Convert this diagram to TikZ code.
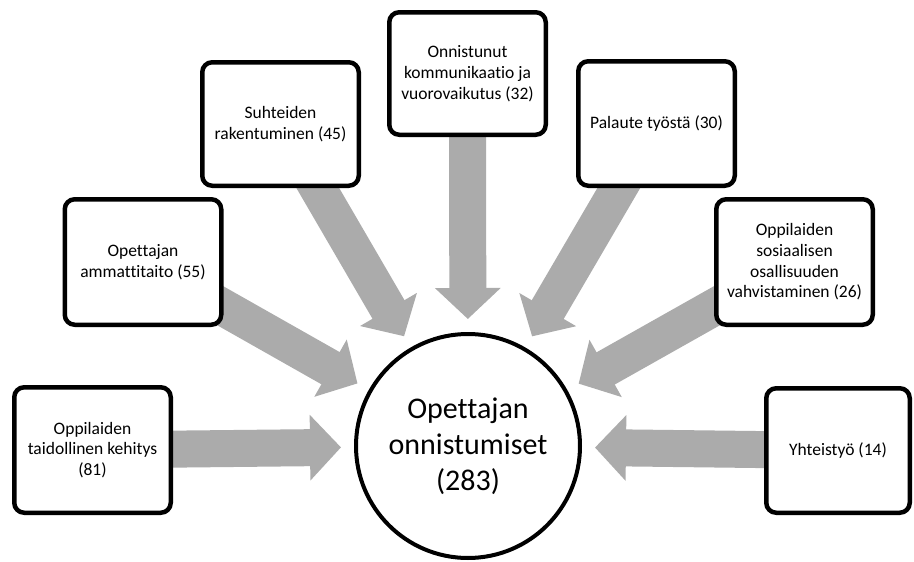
\documentclass[tikz,border=0pt]{standalone}
\usepackage{fontspec}
\setmainfont{Carlito}[Ligatures=NoCommon]
\usetikzlibrary{arrows.meta,calc,backgrounds}
\definecolor{flowgray}{RGB}{171,171,171}
\begin{document}
\begin{tikzpicture}
[x=1pt,y=-1pt,
 boxdecorate/.style={shape=rectangle,rounded corners=10pt,draw,line width=4.5pt,
   fill=white,align=center,inner sep=2pt,font=\fontsize{17.5}{20.7}\selectfont},
 hubdecorate/.style={shape=circle,draw,line width=4pt,fill=white,minimum size=224pt,
   align=center,inner sep=0pt,font=\fontsize{30}{36}\selectfont},
 linedecorate/.style={draw=flowgray,line width=37pt,-{Triangle[length=31pt,width=64pt]}}]
\useasboundingbox (0,0) rectangle (914,562);
%% centre
\node (hub) at (468,446) [hubdecorate] {Opettajan\\onnistumiset\\(283)};
%% boxes
\foreach \nodename/\x/\y/\w/\h/\txt in {
  kehitys/92.5/450/156.5/125.5/{Oppilaiden\\taidollinen kehitys\\(81)},
  taito/143/262/156.5/125.5/{Opettajan\\ammattitaito (55)},
  suhteet/280.5/124/156.5/123.5/{Suhteiden\\rakentuminen (45)},
  kommunikaatio/467.5/73.5/156.5/122.5/{Onnistunut\\kommunikaatio ja\\vuorovaikutus (32)},
  palaute/656.5/123.5/156.5/124.5/{Palaute työstä (30)},
  osallisuus/794.5/262/156.5/125.5/{Oppilaiden\\sosiaalisen\\osallisuuden\\vahvistaminen (26)},
  yhteistyo/838/450.5/143.5/124.5/{Yhteistyö (14)}}
{
  \node (\nodename) at (\x,\y) [boxdecorate,minimum width=\w,minimum height=\h] {\txt};
}
%% arrows
\begin{scope}[on background layer]
\foreach \startnode in {kehitys,taito,suhteet,kommunikaatio,palaute,osallisuus,yhteistyo}
{
  \draw[linedecorate] (\startnode.center) -- ($(hub.center)!127pt!(\startnode.center)$);
}
\end{scope}
\end{tikzpicture}
\end{document}
